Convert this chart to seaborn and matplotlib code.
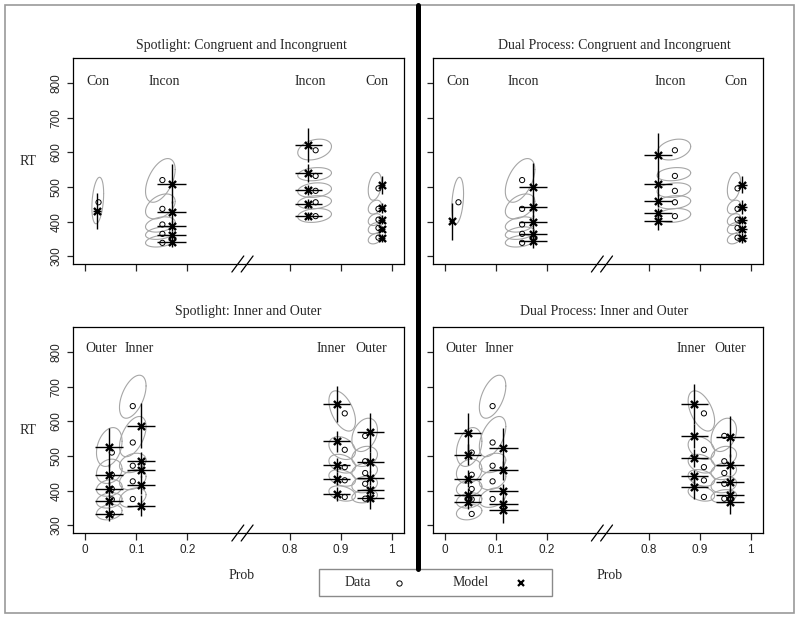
import numpy as np
import matplotlib
matplotlib.use("Agg")
import matplotlib.pyplot as plt
import seaborn as sns
from matplotlib.lines import Line2D
from matplotlib.patches import Rectangle

# --- data (prob, RT in ms) ---
x_ticks = [0, 0.1, 0.2, 0.8, 0.9, 1.0]
x_tick_labels = ["0", "0.1", "0.2", "0.8", "0.9", "1"]
y_ticks = [300, 400, 500, 600, 700, 800]

# Congruent / Incongruent (top row)
ci_names = ["Con", "Incon", "Incon", "Con"]
ci_label_p = [0.024, 0.154, 0.841, 0.971]
ci_data_p = [0.026, 0.151, 0.851, 0.974]
ci_data_rt = [[456], [520, 437, 392, 365, 339], [606, 532, 489, 456, 416], [496, 437, 406, 382, 354]]

sp_ci_model_p = [0.023, 0.169, 0.837, 0.980]
sp_ci_model_rt = [[432], [510, 429, 387, 362, 341], [621, 540, 491, 452, 417], [506, 440, 406, 379, 353]]
sp_ci_rt_err = [[52], [55, 30, 15, 12, 15], [50, 25, 15, 12, 12], [26, 15, 12, 10, 12]]
sp_ci_p_err = [0.007, 0.028, 0.027, 0.007]

dp_ci_model_p = [0.013, 0.172, 0.818, 0.983]
dp_ci_model_rt = [[401], [499, 443, 398, 365, 344], [592, 510, 461, 424, 403], [507, 442, 405, 379, 353]]
dp_ci_rt_err = [[54], [70, 30, 20, 15, 20], [64, 35, 20, 15, 28], [25, 20, 12, 12, 15]]
dp_ci_p_err = [0.005, 0.027, 0.027, 0.010]

ci_ell_p = [0.0245, 0.147, 0.849, 0.967]
ci_ell_pw = [0.0115, 0.029, 0.033, 0.013]
ci_ell_rt = [[461], [519, 444, 392, 367, 344], [608, 537, 491, 456, 418], [502, 442, 406, 381, 351]]
ci_ell_h = [[67], [63, 36, 22, 18, 17], [30, 19, 21, 19, 20], [40, 20, 17, 16, 15]]
ci_ell_r = [[0.3], [0.5, 0.4, 0.3, 0.3, 0.3], [0.3, 0.2, 0.2, 0.2, 0.2], [0.3, 0.3, 0.3, 0.3, 0.3]]

# Inner / Outer (bottom row)
io_names = ["Outer", "Inner", "Inner", "Outer"]
io_label_p = [0.031, 0.106, 0.882, 0.959]
io_data_p = [0.052, 0.093, 0.908, 0.948]
io_data_rt = [[510, 446, 405, 375, 333], [644, 539, 472, 427, 376], [623, 518, 468, 430, 382], [558, 485, 451, 420, 377]]

sp_io_model_p = [0.046, 0.109, 0.892, 0.958]
sp_io_model_rt = [[525, 446, 405, 370, 332], [587, 486, 459, 416, 357], [650, 542, 475, 435, 391], [568, 483, 437, 401, 379]]
sp_io_rt_err = [[57, 30, 20, 18, 20], [65, 27, 20, 25, 30], [52, 30, 20, 18, 20], [57, 30, 20, 15, 33]]
sp_io_p_err = [0.027, 0.027, 0.027, 0.026]

dp_io_model_p = [0.044, 0.114, 0.889, 0.959]
dp_io_model_rt = [[566, 504, 435, 389, 368], [523, 459, 398, 363, 343], [650, 558, 494, 441, 410], [556, 475, 425, 389, 368]]
dp_io_rt_err = [[57, 30, 25, 18, 22], [59, 28, 20, 20, 35], [59, 35, 25, 20, 35], [60, 30, 20, 18, 35]]
dp_io_p_err = [0.027, 0.028, 0.027, 0.027]

io_ell_p = [0.047, 0.093, 0.903, 0.947]
io_ell_pw = [0.025, 0.026, 0.026, 0.025]
io_ell_rt = [[526, 456, 408, 372, 338], [671, 556, 480, 432, 380], [630, 523, 478, 437, 392], [561, 499, 456, 418, 384]]
io_ell_h = [[56, 35, 24, 22, 22], [62, 58, 28, 29, 28], [58, 33, 27, 24, 22], [48, 29, 24, 24, 19]]
io_ell_r = [[0.3, 0.2, 0.2, 0.2, 0.2], [0.5, 0.5, 0.3, 0.3, 0.3], [-0.5, -0.3, -0.3, -0.3, -0.3], [0.3, 0.2, 0.2, 0.2, 0.2]]

# --- style ---
sns.set_style("ticks")
plt.rcParams["font.family"] = ["Liberation Serif", "DejaVu Serif"]
plt.rcParams["axes.linewidth"] = 0.9


# broken prob axis: 0-0.3 and 0.7-1 share one scale
def fwd(p):
    p = np.asarray(p, dtype=float)
    return np.where(p <= 0.3, p * 10, np.where(p >= 0.7, p * 10 - 4, 3.0))


def inv(u):
    u = np.asarray(u, dtype=float)
    return np.where(u <= 3, u / 10, (u + 4) / 10)


def draw_panel(ax, title, title_x, title_pad, names, label_p, label_rt, data_p, data_rt,
               model_p, model_rt, rt_err, p_err, ell_p, ell_pw, ell_rt, ell_h, ell_r,
               xlabels, ylabels):
    ax.set_xscale("function", functions=(fwd, inv))
    t = np.linspace(0, 2 * np.pi, 120)
    for g in range(4):
        # data ellipses
        for c, h, r in zip(ell_rt[g], ell_h[g], ell_r[g]):
            ex = ell_p[g] + ell_pw[g] * np.cos(t)
            ey = c + h * (r * np.cos(t) + np.sqrt(1 - r * r) * np.sin(t))
            ax.plot(ex, ey, color="#a6a6a6", lw=0.8, zorder=1)
        n = len(model_rt[g])
        ax.errorbar([model_p[g]] * n, model_rt[g], yerr=rt_err[g], xerr=p_err[g],
                    fmt="none", ecolor="black", elinewidth=1.0, capsize=0, zorder=2)
        ax.text(label_p[g], label_rt, names[g], ha="center", va="center", fontsize=10)

    dx = [p for g in range(4) for p in [data_p[g]] * len(data_rt[g])]
    dy = [v for g in range(4) for v in data_rt[g]]
    mx = [p for g in range(4) for p in [model_p[g]] * len(model_rt[g])]
    my = [v for g in range(4) for v in model_rt[g]]
    sns.scatterplot(x=dx, y=dy, ax=ax, marker="o", s=14, facecolor="none",
                    edgecolor="black", linewidth=0.7, zorder=3)
    sns.scatterplot(x=mx, y=my, ax=ax, marker="x", s=26, color="black",
                    linewidth=1.7, zorder=4)

    ax.set_xlim(-0.024, 1.024)
    ax.set_ylim(278, 872)
    ax.set_xticks(x_ticks)
    ax.set_yticks(y_ticks)
    ax.set_xticklabels(x_tick_labels if xlabels else [""] * len(x_ticks))
    ax.set_yticklabels([str(v) for v in y_ticks] if ylabels else [""] * len(y_ticks))
    ax.tick_params(axis="x", direction="out", length=5, width=0.9, pad=3, labelsize=8.5)
    ax.tick_params(axis="y", direction="out", length=4.5, width=0.9, pad=3, labelsize=8.5,
                   labelrotation=90)
    for lab in ax.get_xticklabels() + ax.get_yticklabels():
        lab.set_fontfamily("Liberation Sans")
    for lab in ax.get_yticklabels():
        lab.set_va("center")
    for sp in ax.spines.values():
        sp.set_visible(True)
        sp.set_color("black")
    ax.minorticks_off()
    ax.set_title(title, fontsize=10, x=title_x, pad=title_pad)

    # axis break marks
    for xc in (0.498, 0.526):
        ax.plot([xc - 0.018, xc + 0.018], [-0.039, 0.039], color="black", lw=0.9,
                transform=ax.transAxes, clip_on=False)
    if ylabels:
        ax.set_ylabel("RT", rotation=0, fontsize=10, ha="center", va="center")
        ax.yaxis.set_label_coords(-0.136, 0.5)


fig = plt.figure(figsize=(8, 6.19), dpi=100)
fig.patch.set_facecolor("white")

ax_tl = fig.add_axes([0.09125, 0.5735, 0.41375, 0.3328])
ax_tr = fig.add_axes([0.54125, 0.5735, 0.4125, 0.3328])
ax_bl = fig.add_axes([0.09125, 0.1389, 0.41375, 0.3328])
ax_br = fig.add_axes([0.54125, 0.1389, 0.4125, 0.3328])

draw_panel(ax_tl, "Spotlight: Congruent and Incongruent", 0.51, 6.5, ci_names, ci_label_p, 805,
           ci_data_p, ci_data_rt, sp_ci_model_p, sp_ci_model_rt, sp_ci_rt_err, sp_ci_p_err,
           ci_ell_p, ci_ell_pw, ci_ell_rt, ci_ell_h, ci_ell_r, False, True)
draw_panel(ax_tr, "Dual Process: Congruent and Incongruent", 0.55, 6.5, ci_names, ci_label_p, 805,
           ci_data_p, ci_data_rt, dp_ci_model_p, dp_ci_model_rt, dp_ci_rt_err, dp_ci_p_err,
           ci_ell_p, ci_ell_pw, ci_ell_rt, ci_ell_h, ci_ell_r, False, False)
draw_panel(ax_bl, "Spotlight: Inner and Outer", 0.53, 9, io_names, io_label_p, 810,
           io_data_p, io_data_rt, sp_io_model_p, sp_io_model_rt, sp_io_rt_err, sp_io_p_err,
           io_ell_p, io_ell_pw, io_ell_rt, io_ell_h, io_ell_r, True, True)
draw_panel(ax_br, "Dual Process: Inner and Outer", 0.52, 9, io_names, io_label_p, 810,
           io_data_p, io_data_rt, dp_io_model_p, dp_io_model_rt, dp_io_rt_err, dp_io_p_err,
           io_ell_p, io_ell_pw, io_ell_rt, io_ell_h, io_ell_r, True, False)

for ax, xc in ((ax_bl, 0.51), (ax_br, 0.536)):
    ax.set_xlabel("Prob", fontsize=10, va="center")
    ax.xaxis.set_label_coords(xc, -0.204)

# outer frame, divider and legend
fig.add_artist(Rectangle((5 / 800, 1 - 613 / 619), 789 / 800, 608 / 619, fill=False,
                         edgecolor="#9a9a9a", lw=1.2, transform=fig.transFigure))
fig.add_artist(Line2D([417.5 / 800] * 2, [1 - 5 / 619, 1 - 569 / 619], color="black",
                      lw=3.6, transform=fig.transFigure))
fig.add_artist(Rectangle((319 / 800, 1 - 596 / 619), 233 / 800, 27 / 619, fill=False,
                         edgecolor="#8a8a8a", lw=1.0, transform=fig.transFigure))
ly = 1 - 582.5 / 619
fig.text(358 / 800, ly, "Data", ha="center", va="center", fontsize=10)
fig.text(471 / 800, ly, "Model", ha="center", va="center", fontsize=10)
fig.add_artist(Line2D([399 / 800], [ly], ls="none", marker="o", ms=3.8, mfc="none",
                      mec="black", mew=0.7, transform=fig.transFigure))
fig.add_artist(Line2D([521 / 800], [ly], ls="none", marker="x", ms=4.5, color="black",
                      mew=1.6, transform=fig.transFigure))

fig.savefig("out.png", dpi=100, facecolor="white")
